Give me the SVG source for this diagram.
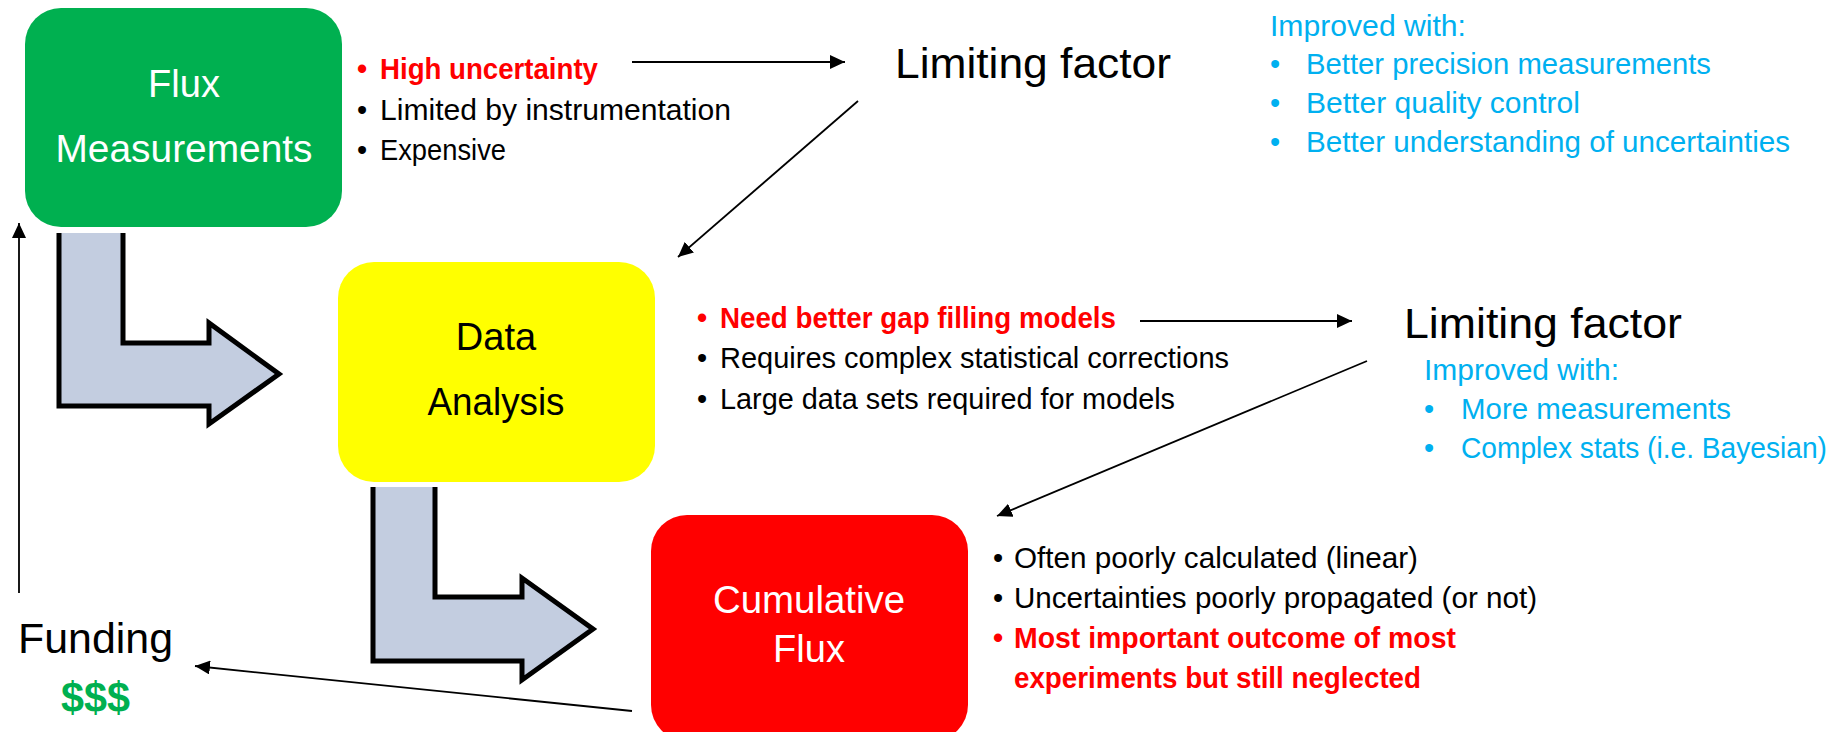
<svg xmlns="http://www.w3.org/2000/svg" width="1845" height="732" viewBox="0 0 1845 732">
<defs>
<style>
text{font-family:"Liberation Sans",Arial,sans-serif}
.box{font-size:38px}
.big{font-size:43px;fill:#000}
.bl{font-size:29px;fill:#000}
.red{fill:#FF0000;font-weight:bold}
.blue{font-size:29px;fill:#00B0F0}
.mid{text-anchor:middle}
.conn{stroke:#000;stroke-width:1.8;fill:none;marker-end:url(#ah)}
.bent{fill:#C3CDE0;stroke:none}
.bentline{fill:none;stroke:#000;stroke-width:5;stroke-linejoin:miter}
</style>
<marker id="ah" markerUnits="userSpaceOnUse" markerWidth="16" markerHeight="14" refX="15" refY="7" orient="auto">
<path d="M0,0 L15,7 L0,14 z" fill="#000"/>
</marker>
</defs>
<rect width="1845" height="732" fill="#fff"/>

<g id="bent-arrow-1">
<polygon class="bent" points="59,233 123,233 123,343 209,343 209,323 279,374 209,424 209,406 59,406"/>
<path class="bentline" d="M123,233 V343 H209 V323 L279,374 L209,424 V406 H59 V233"/>
</g>
<g id="bent-arrow-2">
<polygon class="bent" points="373,487 435,487 435,597 522,597 522,578 593,629 522,680 522,661 373,661"/>
<path class="bentline" d="M435,487 V597 H522 V578 L593,629 L522,680 V661 H373 V487"/>
</g>

<g id="flux-measurements">
<rect x="25" y="8" width="317" height="219" rx="36" ry="36" fill="#00B050"/>
<text class="box mid" x="184" y="97" fill="#fff">Flux</text>
<text class="box mid" x="184" y="162" fill="#fff" textLength="257" lengthAdjust="spacingAndGlyphs">Measurements</text>
</g>
<g id="flux-notes">
<text class="bl red mid" x="362" y="79">•</text>
<text class="bl red" x="380" y="79" textLength="218" lengthAdjust="spacingAndGlyphs">High uncertainty</text>
<text class="bl mid" x="362" y="120">•</text>
<text class="bl" x="380" y="120" textLength="351" lengthAdjust="spacingAndGlyphs">Limited by instrumentation</text>
<text class="bl mid" x="362" y="160">•</text>
<text class="bl" x="380" y="160" textLength="126" lengthAdjust="spacingAndGlyphs">Expensive</text>
</g>

<g id="limiting-factor-1">
<text class="big" x="895" y="78" textLength="276" lengthAdjust="spacingAndGlyphs">Limiting factor</text>
</g>
<g id="improved-1">
<text class="blue" x="1270" y="36" textLength="196" lengthAdjust="spacingAndGlyphs">Improved with:</text>
<text class="blue mid" x="1275" y="74">•</text>
<text class="blue" x="1306" y="74" textLength="405" lengthAdjust="spacingAndGlyphs">Better precision measurements</text>
<text class="blue mid" x="1275" y="113">•</text>
<text class="blue" x="1306" y="113" textLength="274" lengthAdjust="spacingAndGlyphs">Better quality control</text>
<text class="blue mid" x="1275" y="152">•</text>
<text class="blue" x="1306" y="152" textLength="484" lengthAdjust="spacingAndGlyphs">Better understanding of uncertainties</text>
</g>

<g id="data-analysis">
<rect x="338" y="262" width="317" height="220" rx="36" ry="36" fill="#FFFF00"/>
<text class="box mid" x="496" y="350" fill="#000">Data</text>
<text class="box mid" x="496" y="415" fill="#000" textLength="137" lengthAdjust="spacingAndGlyphs">Analysis</text>
</g>
<g id="data-notes">
<text class="bl red mid" x="702" y="328">•</text>
<text class="bl red" x="720" y="328" textLength="396" lengthAdjust="spacingAndGlyphs">Need better gap filling models</text>
<text class="bl mid" x="702" y="368">•</text>
<text class="bl" x="720" y="368" textLength="509" lengthAdjust="spacingAndGlyphs">Requires complex statistical corrections</text>
<text class="bl mid" x="702" y="409">•</text>
<text class="bl" x="720" y="409" textLength="455" lengthAdjust="spacingAndGlyphs">Large data sets required for models</text>
</g>

<g id="limiting-factor-2">
<text class="big" x="1404" y="338" textLength="278" lengthAdjust="spacingAndGlyphs">Limiting factor</text>
</g>
<g id="improved-2">
<text class="blue" x="1424" y="380" textLength="195" lengthAdjust="spacingAndGlyphs">Improved with:</text>
<text class="blue mid" x="1429" y="419">•</text>
<text class="blue" x="1461" y="419" textLength="270" lengthAdjust="spacingAndGlyphs">More measurements</text>
<text class="blue mid" x="1429" y="458">•</text>
<text class="blue" x="1461" y="458" textLength="366" lengthAdjust="spacingAndGlyphs">Complex stats (i.e. Bayesian)</text>
</g>

<g id="cumulative-flux">
<rect x="651" y="515" width="317" height="226" rx="36" ry="36" fill="#FF0000"/>
<text class="box mid" x="809" y="613" fill="#fff" textLength="192" lengthAdjust="spacingAndGlyphs">Cumulative</text>
<text class="box mid" x="809" y="662" fill="#fff">Flux</text>
</g>
<g id="cumulative-notes">
<text class="bl mid" x="998" y="568">•</text>
<text class="bl" x="1014" y="568" textLength="404" lengthAdjust="spacingAndGlyphs">Often poorly calculated (linear)</text>
<text class="bl mid" x="998" y="608">•</text>
<text class="bl" x="1014" y="608" textLength="523" lengthAdjust="spacingAndGlyphs">Uncertainties poorly propagated (or not)</text>
<text class="bl red mid" x="998" y="648">•</text>
<text class="bl red" x="1014" y="648" textLength="442" lengthAdjust="spacingAndGlyphs">Most important outcome of most</text>
<text class="bl red" x="1014" y="688" textLength="407" lengthAdjust="spacingAndGlyphs">experiments but still neglected</text>
</g>

<g id="funding">
<text class="big" x="18" y="653" textLength="155" lengthAdjust="spacingAndGlyphs">Funding</text>
<text x="61" y="712" style="font-size:43px;font-weight:bold;fill:#00B050" textLength="69" lengthAdjust="spacingAndGlyphs">$$$</text>
</g>

<g id="connectors">
<line class="conn" x1="632" y1="62" x2="845" y2="62"/>
<line class="conn" x1="858" y1="101" x2="678" y2="257"/>
<line class="conn" x1="1140" y1="321" x2="1352" y2="321"/>
<line class="conn" x1="1367" y1="361" x2="997" y2="516"/>
<line class="conn" x1="632" y1="711" x2="195" y2="666"/>
<line class="conn" x1="19" y1="593" x2="19" y2="223"/>
</g>
</svg>
